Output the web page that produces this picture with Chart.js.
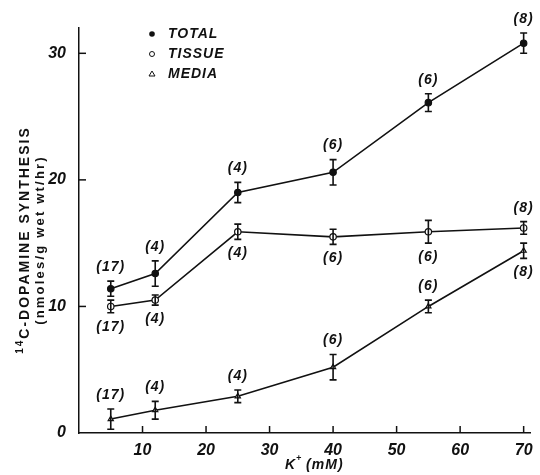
<!DOCTYPE html>
<html>
<head>
<meta charset="utf-8">
<script src="https://cdn.jsdelivr.net/npm/chart.js@4.4.0/dist/chart.umd.min.js"></script>
<style>
  html, body { margin: 0; padding: 0; background: #fff; }
  #wrap { width: 540px; height: 475px; }
</style>
</head>
<body>
<div id="wrap"><canvas id="chart" width="540" height="475"></canvas></div>
<script>
// K+ concentration (mM)
const potassium = [5, 12, 25, 40, 55, 70];

const totalValues  = [11.4, 12.6, 19.0, 20.6, 26.1, 30.8];
const totalErrors  = [0.6, 1.0, 0.8, 1.0, 0.7, 0.8];
const totalN       = [17, 4, 4, 6, 6, 8];

const tissueValues = [10.0, 10.5, 15.9, 15.5, 15.9, 16.2];
const tissueErrors = [0.5, 0.4, 0.6, 0.6, 0.9, 0.5];
const tissueN      = [17, 4, 4, 6, 6, 8];

const mediaValues  = [1.1, 1.8, 2.9, 5.2, 10.0, 14.4];
const mediaErrors  = [0.8, 0.7, 0.5, 1.0, 0.5, 0.6];
const mediaN       = [17, 4, 4, 6, 6, 8];

const yTicks = [0, 10, 20, 30];
const xTicks = [10, 20, 30, 40, 50, 60, 70];

const ink = '#111';
const labelFont = 'italic bold 14px "Liberation Sans", Arial, sans-serif';
const tickFont = { family: '"Liberation Sans", Arial, sans-serif', size: 16, style: 'italic', weight: 'bold' };

function pts(vals) {
    return potassium.map((k, i) => ({ x: k, y: vals[i] }));
}

// n labels: 1 = above the point, -1 = below
const placement = {
    0: [1, 1, 1, 1, 1, 1],
    1: [-1, -1, -1, -1, -1, 1],
    2: [1, 1, 1, 1, 1, -1]
};
const errs = [totalErrors, tissueErrors, mediaErrors];
const counts = [totalN, tissueN, mediaN];

const extras = {
    id: 'extras',
    afterDatasetsDraw(chart) {
        const ctx = chart.ctx;
        const xs = chart.scales.x, ys = chart.scales.y;
        const area = chart.chartArea;
        ctx.save();
        ctx.strokeStyle = ink;
        ctx.fillStyle = ink;

        // inward tick marks
        ctx.lineWidth = 1.5;
        yTicks.slice(1).forEach(v => {
            const py = ys.getPixelForValue(v);
            ctx.beginPath(); ctx.moveTo(area.left, py); ctx.lineTo(area.left + 7, py); ctx.stroke();
        });
        xTicks.forEach(v => {
            const px = xs.getPixelForValue(v);
            ctx.beginPath(); ctx.moveTo(px, area.bottom); ctx.lineTo(px, area.bottom - 7); ctx.stroke();
        });

        // error bars and n labels
        chart.data.datasets.forEach((ds, d) => {
            ds.data.forEach((p, i) => {
                const px = xs.getPixelForValue(p.x);
                const top = ys.getPixelForValue(p.y + errs[d][i]);
                const bot = ys.getPixelForValue(p.y - errs[d][i]);
                ctx.lineWidth = 1.6;
                ctx.beginPath();
                ctx.moveTo(px, top); ctx.lineTo(px, bot);
                ctx.moveTo(px - 3.5, top); ctx.lineTo(px + 3.5, top);
                ctx.moveTo(px - 3.5, bot); ctx.lineTo(px + 3.5, bot);
                ctx.stroke();

                ctx.font = labelFont;
                ctx.letterSpacing = '1px';
                ctx.textAlign = 'center';
                ctx.textBaseline = 'middle';
                const ly = placement[d][i] > 0 ? top - 14 : bot + 14;
                ctx.fillText('(' + counts[d][i] + ')', px, ly);
            });
        });

        // legend
        ctx.font = labelFont;
        ctx.letterSpacing = '1px';
        ctx.textAlign = 'left';
        ctx.textBaseline = 'middle';
        ctx.lineWidth = 1;
        ctx.beginPath(); ctx.arc(152, 34, 2.8, 0, Math.PI * 2); ctx.fill();
        ctx.fillText('TOTAL', 168, 34);
        ctx.beginPath(); ctx.arc(152, 54, 2.5, 0, Math.PI * 2); ctx.stroke();
        ctx.fillText('TISSUE', 168, 54);
        ctx.beginPath(); ctx.moveTo(152, 71); ctx.lineTo(155, 76); ctx.lineTo(149, 76); ctx.closePath(); ctx.stroke();
        ctx.fillText('MEDIA', 168, 74);

        // axis titles
        ctx.save();
        ctx.translate(25, 240);
        ctx.rotate(-Math.PI / 2);
        ctx.textAlign = 'left';
        ctx.letterSpacing = '2px';
        const main = 'C-DOPAMINE SYNTHESIS';
        ctx.font = 'bold 10px "Liberation Sans", Arial, sans-serif';
        const supW = ctx.measureText('14').width;
        ctx.font = 'bold 14px "Liberation Sans", Arial, sans-serif';
        const mainW = ctx.measureText(main).width;
        const start = -(supW + mainW) / 2;
        ctx.font = 'bold 10px "Liberation Sans", Arial, sans-serif';
        ctx.fillText('14', start, -5);
        ctx.font = 'bold 14px "Liberation Sans", Arial, sans-serif';
        ctx.fillText(main, start + supW, 0);
        ctx.textAlign = 'center';
        ctx.font = 'bold 13px "Liberation Sans", Arial, sans-serif';
        ctx.letterSpacing = '2.2px';
        ctx.fillText('(nmoles/g wet wt/hr)', 0, 15);
        ctx.restore();

        ctx.font = labelFont;
        ctx.letterSpacing = '1px';
        ctx.textAlign = 'left';
        const kW = ctx.measureText('K').width;
        ctx.fillText('K', 285, 465);
        ctx.font = 'italic bold 9px "Liberation Sans", Arial, sans-serif';
        ctx.fillText('+', 285 + kW, 459);
        ctx.font = labelFont;
        ctx.fillText('(mM)', 285 + kW + 10, 465);
        ctx.restore();
    }
};

new Chart(document.getElementById('chart').getContext('2d'), {
    type: 'line',
    data: {
        datasets: [
            { label: 'TOTAL', data: pts(totalValues), pointStyle: 'circle', pointRadius: 3.2,
              pointBackgroundColor: ink, pointBorderColor: ink },
            { label: 'TISSUE', data: pts(tissueValues), pointStyle: 'circle', pointRadius: 3.2,
              pointBackgroundColor: '#fff', pointBorderColor: ink },
            { label: 'MEDIA', data: pts(mediaValues), pointStyle: 'triangle', pointRadius: 3,
              pointBackgroundColor: '#fff', pointBorderColor: ink }
        ].map(ds => Object.assign(ds, { borderColor: ink, borderWidth: 1.6, pointBorderWidth: 1.2, tension: 0, fill: false }))
    },
    options: {
        responsive: false,
        animation: false,
        layout: { padding: { left: 0, top: 28, right: 10, bottom: 0 } },
        plugins: { legend: { display: false }, tooltip: { enabled: false } },
        scales: {
            x: {
                type: 'linear', min: 0, max: 71,
                afterBuildTicks: s => { s.ticks = xTicks.map(v => ({ value: v })); },
                afterFit: s => { s.height = 42; },
                grid: { display: false },
                border: { color: ink, width: 1.5 },
                ticks: { color: ink, font: tickFont, padding: 0 }
            },
            y: {
                min: 0, max: 32,
                afterBuildTicks: s => { s.ticks = yTicks.map(v => ({ value: v })); },
                afterFit: s => { s.width = 79; },
                grid: { display: false },
                border: { color: ink, width: 1.5 },
                ticks: { color: ink, font: tickFont, padding: 5 }
            }
        }
    },
    plugins: [extras]
});
</script>
</body>
</html>
